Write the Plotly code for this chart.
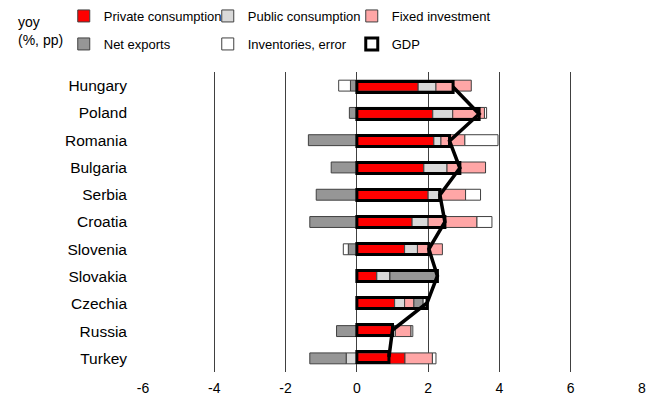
import plotly.graph_objects as go

countries = ["Hungary", "Poland", "Romania", "Bulgaria", "Serbia", "Croatia",
             "Slovenia", "Slovakia", "Czechia", "Russia", "Turkey"]
private = [1.72, 2.13, 2.16, 1.88, 2.00, 1.55, 1.34, 0.56, 1.06, 0.99, 1.35]
public = [0.50, 0.56, 0.20, 0.65, 0.30, 0.45, 0.36, 0.37, 0.28, 0.09, -0.30]
fixed = [0.99, 0.89, 0.67, 1.08, 0.75, 1.37, 0.70, 0.00, 0.26, 0.44, 0.77]
net_exports = [-0.18, -0.21, -1.36, -0.72, -1.14, -1.32, -0.24, 1.33, 0.26, -0.57, -1.02]
inventories = [-0.33, 0.06, 0.93, 0.00, 0.42, 0.42, -0.14, 0.00, 0.11, 0.05, 0.10]
gdp = [2.70, 3.43, 2.60, 2.89, 2.33, 2.47, 2.02, 2.26, 1.97, 1.00, 0.90]
x_ticks = [-6, -4, -2, 0, 2, 4, 6, 8]
x_tick_labels = ["-6", "-4", "-2", "0", "2", "4", "6", "8"]

FONT = "Arial, Liberation Sans, sans-serif"
EDGE = "#404040"

components = [
    ("Private consumption", private, "#FF0000", "legend"),
    ("Public consumption", public, "#D9D9D9", "legend"),
    ("Fixed investment", fixed, "#FFA6A6", "legend"),
    ("Net exports", net_exports, "#969696", "legend2"),
    ("Inventories, error", inventories, "#FFFFFF", "legend2"),
]

fig = go.Figure()
for name, vals, col, lg in components:
    fig.add_trace(go.Bar(
        name=name, x=vals, y=countries, orientation="h",
        marker=dict(color=col, line=dict(color=EDGE, width=1)),
        legend=lg,
    ))

fig.add_trace(go.Bar(
    name="GDP", x=gdp, y=countries, orientation="h", yaxis="y2",
    marker=dict(color="rgba(0,0,0,0)", line=dict(color="black", width=3)),
    legend="legend2",
))
fig.add_trace(go.Scatter(
    x=gdp, y=countries, mode="lines", showlegend=False,
    line=dict(color="black", width=3.5), yaxis="y2",
))

legend_common = dict(
    orientation="h", xref="container", yref="container",
    xanchor="left", yanchor="top",
    font=dict(family=FONT, size=13, color="black"),
    entrywidth=99, entrywidthmode="pixels",
    bgcolor="rgba(0,0,0,0)", itemclick=False,
)

fig.update_layout(
    width=660, height=400,
    margin=dict(l=143, r=18, t=72, b=28),
    paper_bgcolor="white", plot_bgcolor="white",
    barmode="relative", bargap=0.6,
    font=dict(family=FONT, size=13, color="black"),
    xaxis=dict(range=[-6, 8], tickvals=x_ticks, ticktext=x_tick_labels,
               showgrid=True, gridcolor=EDGE, gridwidth=1, zeroline=True,
               zerolinecolor=EDGE, zerolinewidth=1, showline=False,
               ticks="", ticklabelstandoff=6, automargin=False,
               tickfont=dict(family=FONT, size=14)),
    yaxis=dict(categoryorder="array", categoryarray=countries,
               autorange="reversed", showgrid=False, ticks="",
               ticklabelstandoff=15, automargin=False,
               tickfont=dict(family=FONT, size=15.5)),
    yaxis2=dict(categoryorder="array", categoryarray=countries,
                autorange="reversed", overlaying="y", showticklabels=False,
                showgrid=False, ticks="", automargin=False),
    legend=dict(x=0.0966, y=0.9975, **legend_common),
    legend2=dict(x=0.0966, y=0.9275, **legend_common),
    annotations=[dict(text="yoy<br>(%, pp)", xref="paper", yref="paper",
                      x=-0.2545, y=1.20, xanchor="left", yanchor="top",
                      align="left", showarrow=False,
                      font=dict(family=FONT, size=14, color="black"))],
    showlegend=True,
)

fig.write_html("out.html")
